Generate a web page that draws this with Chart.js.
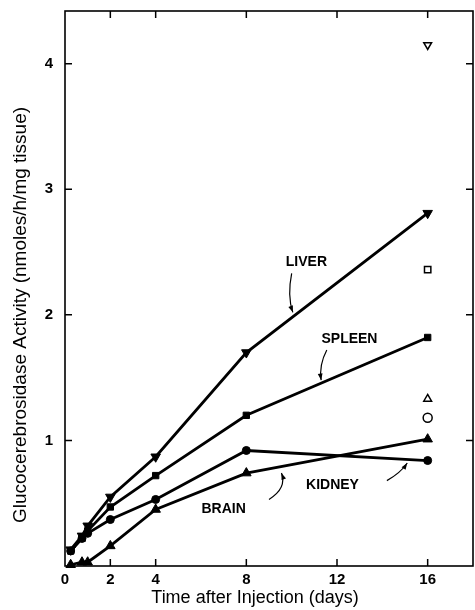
<!DOCTYPE html>
<html>
<head>
<meta charset="utf-8">
<script src="https://cdn.jsdelivr.net/npm/chart.js@4"></script>
<style>
  html, body { margin: 0; padding: 0; background: #fff; }
  #wrap { width: 475px; height: 610px; }
</style>
</head>
<body>
<div id="wrap"><canvas id="chart" width="475" height="610"></canvas></div>
<script>
  // time points (days)
  const days = [0.25, 0.75, 1, 2, 4, 8, 16];
  const liver  = [0.13, 0.24, 0.32, 0.55, 0.87, 1.70, 2.81];
  const spleen = [0.12, 0.22, 0.28, 0.47, 0.72, 1.20, 1.82];
  const kidney = [0.12, 0.22, 0.26, 0.37, 0.53, 0.92, 0.84];
  const brain  = [0.01, 0.03, 0.03, 0.16, 0.45, 0.74, 1.01];

  // open symbols at day 16 (liver, spleen, brain, kidney)
  const openX = [16, 16, 16, 16];
  const openY = [4.15, 2.36, 1.33, 1.18];
  const openStyle = ["triangle", "rect", "triangle", "circle"];
  const openRot = [180, 0, 0, 0];

  const xTicks = [0, 2, 4, 8, 12, 16];
  const yTicks = [1, 2, 3, 4];

  const FONT = "'Liberation Sans', Arial, sans-serif";
  const pts = (xs, ys) => xs.map((x, i) => ({ x: x, y: ys[i] }));

  function series(label, ys, style, rot, r){
    return {
      label: label,
      data: pts(days, ys),
      showLine: true,
      clip: false,
      borderColor: "#000",
      backgroundColor: "#000",
      borderWidth: 2.8,
      pointStyle: style,
      rotation: rot,
      pointRadius: r,
      pointBorderWidth: 1,
      tension: 0
    };
  }

  // labels with curved arrows, in data coords: text pos, arrow start, control, end
  const notes = [
    { t: "LIVER",  tx: 10.65, ty: 2.42, a: [10.0, 2.33], c: [9.8, 2.15], b: [10.05, 2.02] },
    { t: "SPLEEN", tx: 12.55, ty: 1.81, a: [11.55, 1.72], c: [11.2, 1.6], b: [11.3, 1.48] },
    { t: "BRAIN",  tx: 7.0,  ty: 0.45, a: [9.0, 0.53], c: [9.8, 0.62], b: [9.55, 0.74] },
    { t: "KIDNEY", tx: 11.8, ty: 0.64, a: [14.2, 0.68], c: [14.8, 0.74], b: [15.1, 0.82] }
  ];

  const framePlugin = {
    id: "frame",
    afterDraw(chart){
      const ctx = chart.ctx;
      const a = chart.chartArea;
      const xs = chart.scales.x, ys = chart.scales.y;
      ctx.save();
      ctx.strokeStyle = "#000";
      ctx.lineWidth = 1.6;
      ctx.strokeRect(a.left, a.top, a.right - a.left, a.bottom - a.top);
      ctx.lineWidth = 1.5;
      ctx.beginPath();
      xTicks.forEach(v => {
        if (v === 0) return;
        const px = xs.getPixelForValue(v);
        ctx.moveTo(px, a.bottom); ctx.lineTo(px, a.bottom - 7);
        ctx.moveTo(px, a.top); ctx.lineTo(px, a.top + 7);
      });
      yTicks.forEach(v => {
        const py = ys.getPixelForValue(v);
        ctx.moveTo(a.left, py); ctx.lineTo(a.left + 7, py);
        ctx.moveTo(a.right, py); ctx.lineTo(a.right - 7, py);
      });
      ctx.stroke();

      // axis titles
      ctx.fillStyle = "#000";
      ctx.textAlign = "center";
      ctx.textBaseline = "middle";
      ctx.font = "18px " + FONT;
      ctx.fillText("Time after Injection (days)", 255, 598);
      ctx.save();
      ctx.translate(21, 315);
      ctx.rotate(-Math.PI / 2);
      ctx.font = "19px " + FONT;
      ctx.fillText("Glucocerebrosidase Activity (nmoles/h/mg tissue)", 0, 0);
      ctx.restore();

      // annotations
      ctx.font = "bold 14px " + FONT;
      ctx.lineWidth = 1.2;
      notes.forEach(n => {
        ctx.fillText(n.t, xs.getPixelForValue(n.tx), ys.getPixelForValue(n.ty));
        const x0 = xs.getPixelForValue(n.a[0]), y0 = ys.getPixelForValue(n.a[1]);
        const cx = xs.getPixelForValue(n.c[0]), cy = ys.getPixelForValue(n.c[1]);
        const x1 = xs.getPixelForValue(n.b[0]), y1 = ys.getPixelForValue(n.b[1]);
        ctx.beginPath();
        ctx.moveTo(x0, y0);
        ctx.quadraticCurveTo(cx, cy, x1, y1);
        ctx.stroke();
        const ang = Math.atan2(y1 - cy, x1 - cx);
        ctx.beginPath();
        ctx.moveTo(x1, y1);
        ctx.lineTo(x1 - 7 * Math.cos(ang - 0.35), y1 - 7 * Math.sin(ang - 0.35));
        ctx.lineTo(x1 - 7 * Math.cos(ang + 0.35), y1 - 7 * Math.sin(ang + 0.35));
        ctx.closePath();
        ctx.fill();
      });
      ctx.restore();
    }
  };

  new Chart(document.getElementById("chart"), {
    type: "scatter",
    data: {
      datasets: [
        series("Liver", liver, "triangle", 180, 5.5),
        series("Spleen", spleen, "rect", 0, 4.5),
        series("Kidney", kidney, "circle", 0, 4),
        series("Brain", brain, "triangle", 0, 5.5),
        {
          label: "Open",
          data: pts(openX, openY),
          showLine: false,
          clip: false,
          borderColor: "#000",
          backgroundColor: "#fff",
          pointStyle: openStyle,
          rotation: openRot,
          pointRadius: 4.5,
          pointBorderWidth: 1.5
        }
      ]
    },
    options: {
      responsive: false,
      animation: false,
      events: [],
      layout: { autoPadding: false, padding: { top: 11, right: 2, left: 0, bottom: 0 } },
      plugins: { legend: { display: false }, tooltip: { enabled: false } },
      scales: {
        x: {
          type: "linear",
          min: 0, max: 18,
          afterBuildTicks: s => { s.ticks = xTicks.map(v => ({ value: v })); },
          afterFit: s => { s.height = 44; s.paddingLeft = 0; s.paddingRight = 0; },
          grid: { display: false, drawTicks: false },
          border: { display: false },
          ticks: {
            padding: 5,
            color: "#000",
            font: { family: FONT, size: 15, weight: "bold" }
          }
        },
        y: {
          type: "linear",
          min: 0, max: 4.42,
          afterBuildTicks: s => { s.ticks = yTicks.map(v => ({ value: v })); },
          afterFit: s => { s.width = 65; s.paddingTop = 0; s.paddingBottom = 0; },
          grid: { display: false, drawTicks: false },
          border: { display: false },
          ticks: {
            padding: 12,
            color: "#000",
            font: { family: FONT, size: 15, weight: "bold" }
          }
        }
      }
    },
    plugins: [framePlugin]
  });
</script>
</body>
</html>
